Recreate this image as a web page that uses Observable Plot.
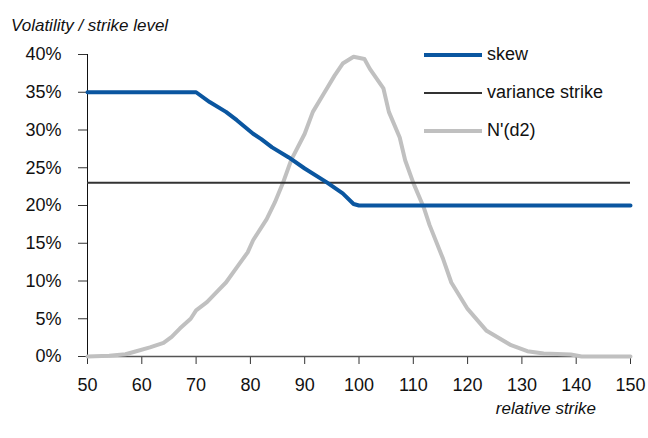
<!DOCTYPE html>
<html>
<head>
<meta charset="utf-8">
<script src="https://cdn.jsdelivr.net/npm/d3@7"></script>
<script src="https://cdn.jsdelivr.net/npm/@observablehq/plot@0.6"></script>
<style>
  body { margin: 0; background: #fff; }
  #wrap { position: relative; width: 648px; height: 438px; font-family: "Liberation Sans", Arial, sans-serif; color: #111; }
  #wrap svg { position: absolute; left: 0; top: 0; }
  .title { position: absolute; left: 11px; top: 16px; font-size: 17px; font-style: italic; white-space: nowrap; }
  .xlabel { position: absolute; right: 52px; top: 399px; font-size: 17px; font-style: italic; white-space: nowrap; }
  .legend { position: absolute; left: 424px; top: 41px; font-size: 18px; }
  .legend .row { position: relative; height: 38px; }
  .legend .sw { position: absolute; left: 0; top: 14px; width: 58px; }
  .legend .lb { position: absolute; left: 63px; top: 3px; white-space: nowrap; }
</style>
</head>
<body>
<div id="wrap">
  <div class="title">Volatility / strike level</div>
  <div class="xlabel">relative strike</div>
</div>
<script>
// Skew (volatility by relative strike)
const skewStrike = [50, 70, 72.5, 75.5, 77.5, 80.5, 82, 84, 87, 90, 94, 97, 99, 100, 150];
const skewVol = [0.35, 0.35, 0.337, 0.324, 0.313, 0.295, 0.288, 0.277, 0.264, 0.249, 0.231, 0.216, 0.202, 0.20, 0.20];

// Variance strike
const varianceStrike = 0.23;

// N'(d2) density (scaled)
const nStrike = [50, 54, 57, 58.5, 61.5, 64, 65.5, 67, 69, 70, 72, 74, 75.5, 77.5, 79.5, 80.5, 83, 84.5, 86, 87.5, 90, 91.5, 93.5, 95.5, 97, 99, 101, 102, 104.5, 105.5, 107.5, 108.5, 110, 112, 113, 115.5, 117, 120, 123.5, 128, 131, 134, 139, 141, 150];
const nValue = [0, 0.001, 0.003, 0.006, 0.012, 0.018, 0.026, 0.037, 0.050, 0.061, 0.072, 0.087, 0.098, 0.118, 0.138, 0.154, 0.182, 0.204, 0.230, 0.260, 0.295, 0.324, 0.348, 0.372, 0.388, 0.397, 0.394, 0.381, 0.355, 0.324, 0.290, 0.260, 0.230, 0.196, 0.174, 0.129, 0.098, 0.063, 0.034, 0.015, 0.007, 0.004, 0.0027, 0, 0];

const xTicks = [50, 60, 70, 80, 90, 100, 110, 120, 130, 140, 150];
const yTicks = [0, 0.05, 0.10, 0.15, 0.20, 0.25, 0.30, 0.35, 0.40];

const seriesNames = ["skew", "variance strike", "N'(d2)"];
const seriesColors = ["#0a56a0", "#333333", "#c0c0c0"];
const seriesWidths = [4, 2, 4];

const skew = skewStrike.map((k, i) => ({k, v: skewVol[i]}));
const nd2 = nStrike.map((k, i) => ({k, v: nValue[i]}));

const chart = Plot.plot({
  width: 648,
  height: 438,
  marginLeft: 87,
  marginRight: 18,
  marginTop: 54,
  marginBottom: 82,
  style: { fontSize: "18px", fontFamily: "'Liberation Sans', Arial, sans-serif", color: "#111", background: "transparent" },
  x: { domain: [50, 150] },
  y: { domain: [0, 0.4] },
  marks: [
    Plot.axisY({ ticks: yTicks, tickFormat: d => Math.round(d * 100) + "%", tickSize: 9, tickPadding: 17, label: null, stroke: "#333" }),
    Plot.axisX({ ticks: xTicks, tickFormat: d => String(d), tickSize: 8, tickPadding: 14, label: null, stroke: "#333" }),
    Plot.ruleX([50], { stroke: "#111", strokeWidth: 1 }),
    Plot.ruleY([0], { stroke: "#555", strokeWidth: 1.5 }),
    Plot.line(nd2, { x: "k", y: "v", stroke: seriesColors[2], strokeWidth: seriesWidths[2] }),
    Plot.ruleY([varianceStrike], { stroke: seriesColors[1], strokeWidth: seriesWidths[1] }),
    Plot.line(skew, { x: "k", y: "v", stroke: seriesColors[0], strokeWidth: seriesWidths[0] })
  ]
});

const wrap = document.getElementById("wrap");
wrap.insertBefore(chart, wrap.firstChild);

const legend = document.createElement("div");
legend.className = "legend";
seriesNames.forEach((name, i) => {
  const row = document.createElement("div");
  row.className = "row";
  const sw = document.createElement("div");
  sw.className = "sw";
  sw.style.borderTop = seriesWidths[i] + "px solid " + seriesColors[i];
  sw.style.marginTop = (-seriesWidths[i] / 2) + "px";
  const lb = document.createElement("div");
  lb.className = "lb";
  lb.textContent = name;
  row.appendChild(sw);
  row.appendChild(lb);
  legend.appendChild(row);
});
wrap.appendChild(legend);
</script>
</body>
</html>
